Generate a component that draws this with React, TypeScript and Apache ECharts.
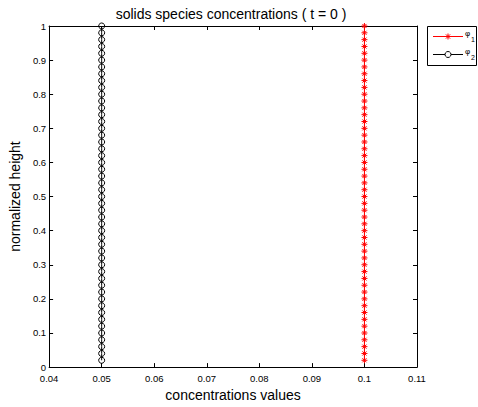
import React, { useEffect, useRef } from "react";
import * as echarts from "echarts";

const heights = [
  0.02, 0.04, 0.06, 0.08, 0.1, 0.12, 0.14, 0.16, 0.18, 0.2,
  0.22, 0.24, 0.26, 0.28, 0.3, 0.32, 0.34, 0.36, 0.38, 0.4,
  0.42, 0.44, 0.46, 0.48, 0.5, 0.52, 0.54, 0.56, 0.58, 0.6,
  0.62, 0.64, 0.66, 0.68, 0.7, 0.72, 0.74, 0.76, 0.78, 0.8,
  0.82, 0.84, 0.86, 0.88, 0.9, 0.92, 0.94, 0.96, 0.98, 1.0,
];
const phi1 = [
  0.1, 0.1, 0.1, 0.1, 0.1, 0.1, 0.1, 0.1, 0.1, 0.1,
  0.1, 0.1, 0.1, 0.1, 0.1, 0.1, 0.1, 0.1, 0.1, 0.1,
  0.1, 0.1, 0.1, 0.1, 0.1, 0.1, 0.1, 0.1, 0.1, 0.1,
  0.1, 0.1, 0.1, 0.1, 0.1, 0.1, 0.1, 0.1, 0.1, 0.1,
  0.1, 0.1, 0.1, 0.1, 0.1, 0.1, 0.1, 0.1, 0.1, 0.1,
];
const phi2 = [
  0.05, 0.05, 0.05, 0.05, 0.05, 0.05, 0.05, 0.05, 0.05, 0.05,
  0.05, 0.05, 0.05, 0.05, 0.05, 0.05, 0.05, 0.05, 0.05, 0.05,
  0.05, 0.05, 0.05, 0.05, 0.05, 0.05, 0.05, 0.05, 0.05, 0.05,
  0.05, 0.05, 0.05, 0.05, 0.05, 0.05, 0.05, 0.05, 0.05, 0.05,
  0.05, 0.05, 0.05, 0.05, 0.05, 0.05, 0.05, 0.05, 0.05, 0.05,
];
const xRange = { min: 0.04, max: 0.11, interval: 0.01 };
const yRange = { min: 0, max: 1, interval: 0.1 };
const titleText = "solids species concentrations ( t = 0 )";
const xName = "concentrations values";
const yName = "normalized height";
const seriesNames = ["φ1", "φ2"];

const FONT = "'Liberation Sans', Arial, Helvetica, sans-serif";
const STAR = "path://M5,0L5,10M0,5L10,5M1.6,1.6L8.4,8.4M1.6,8.4L8.4,1.6";

export default function App() {
  const ref = useRef<HTMLDivElement>(null);
  useEffect(() => {
    if (!ref.current) return;
    const chart = echarts.init(ref.current, null, { renderer: "svg" });
    const fmt = (v: number) => String(Number(v.toFixed(2)));
    const axisLine = { show: true, onZero: false, lineStyle: { color: "#000", width: 1 } };
    const tick = { show: true, inside: true, length: 4, lineStyle: { color: "#000", width: 1 } };
    const lbl = { color: "#000", fontSize: 9.5, fontFamily: FONT };
    chart.setOption({
      animation: false,
      backgroundColor: "#fff",
      grid: { left: 45, top: 26, right: 61, bottom: 37, containLabel: false },
      xAxis: [
        {
          type: "value", ...xRange, position: "bottom",
          axisLine, axisTick: tick, splitLine: { show: false },
          axisLabel: { ...lbl, margin: 6, formatter: fmt },
          name: xName, nameLocation: "middle", nameGap: 14,
          nameTextStyle: { color: "#000", fontSize: 14, fontFamily: FONT },
        },
        {
          type: "value", ...xRange, position: "top",
          axisLine, axisTick: tick, splitLine: { show: false },
          axisLabel: { show: false },
        },
      ],
      yAxis: [
        {
          type: "value", ...yRange, position: "left",
          axisLine, axisTick: tick, splitLine: { show: false },
          axisLabel: { ...lbl, margin: 3, formatter: fmt },
          name: yName, nameLocation: "middle", nameGap: 24,
          nameTextStyle: { color: "#000", fontSize: 14, fontFamily: FONT },
        },
        {
          type: "value", ...yRange, position: "right",
          axisLine, axisTick: tick, splitLine: { show: false },
          axisLabel: { show: false },
        },
      ],
      series: [
        {
          name: seriesNames[0], type: "line", xAxisIndex: 0, yAxisIndex: 0,
          data: heights.map((h, i) => [phi1[i], h]),
          symbol: STAR, symbolSize: 6, showSymbol: true,
          lineStyle: { color: "#ff0000", width: 1 },
          itemStyle: { color: "rgba(0,0,0,0)", borderColor: "#ff0000", borderWidth: 1 },
        },
        {
          name: seriesNames[1], type: "line", xAxisIndex: 0, yAxisIndex: 0,
          data: heights.map((h, i) => [phi2[i], h]),
          symbol: "circle", symbolSize: 6, showSymbol: true,
          lineStyle: { color: "#000", width: 1 },
          itemStyle: { color: "rgba(0,0,0,0)", borderColor: "#000", borderWidth: 1 },
        },
      ],
      graphic: [
        {
          type: "text", x: 231, y: 14,
          style: { text: titleText, fill: "#000", fontSize: 14, fontFamily: FONT, textAlign: "center", textVerticalAlign: "middle" },
        },
        {
          type: "group",
          children: [
            { type: "rect", shape: { x: 427.5, y: 26.5, width: 49, height: 39 }, style: { fill: "#fff", stroke: "#000", lineWidth: 1 } },
            { type: "line", shape: { x1: 433, y1: 36.5, x2: 463, y2: 36.5 }, style: { stroke: "#ff0000", lineWidth: 1 } },
            { type: "line", shape: { x1: 448, y1: 33.5, x2: 448, y2: 39.5 }, style: { stroke: "#ff0000", lineWidth: 1 } },
            { type: "line", shape: { x1: 445.9, y1: 34.4, x2: 450.1, y2: 38.6 }, style: { stroke: "#ff0000", lineWidth: 1 } },
            { type: "line", shape: { x1: 445.9, y1: 38.6, x2: 450.1, y2: 34.4 }, style: { stroke: "#ff0000", lineWidth: 1 } },
            { type: "line", shape: { x1: 433, y1: 54.5, x2: 463, y2: 54.5 }, style: { stroke: "#000", lineWidth: 1 } },
            { type: "circle", shape: { cx: 448, cy: 54.5, r: 3 }, style: { fill: "#fff", stroke: "#000", lineWidth: 1 } },
            { type: "text", x: 465, y: 33, style: { text: "φ", fill: "#000", fontSize: 8, fontFamily: FONT, textVerticalAlign: "middle" } },
            { type: "text", x: 471, y: 39, style: { text: "1", fill: "#000", fontSize: 7, fontFamily: FONT, textVerticalAlign: "middle" } },
            { type: "text", x: 465, y: 51, style: { text: "φ", fill: "#000", fontSize: 8, fontFamily: FONT, textVerticalAlign: "middle" } },
            { type: "text", x: 471, y: 57, style: { text: "2", fill: "#000", fontSize: 7, fontFamily: FONT, textVerticalAlign: "middle" } },
          ],
        },
      ],
    });
    return () => chart.dispose();
  }, []);
  return <div ref={ref} style={{ position: "fixed", left: 0, top: 0, width: 478, height: 407 }} />;
}
